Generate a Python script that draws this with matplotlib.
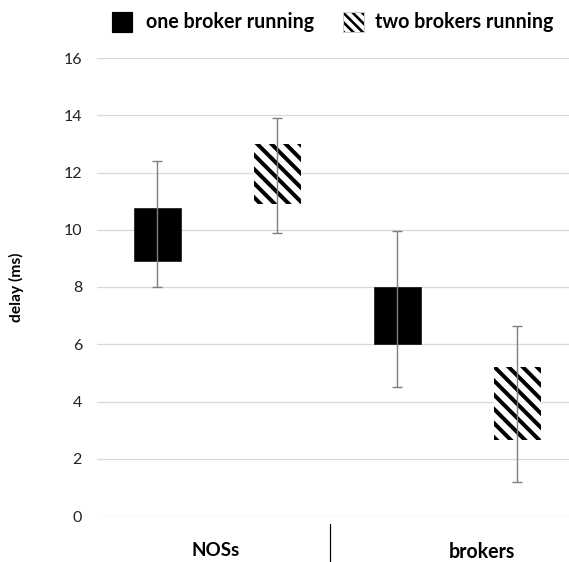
import matplotlib
matplotlib.use("Agg")
import matplotlib.pyplot as plt
from matplotlib.patches import Rectangle
from matplotlib.lines import Line2D

# ---- data ----
categories = ["NOSs", "brokers"]
series = ["one broker running", "two brokers running"]
box_low = [8.9, 10.9, 6.0, 2.65]      # NOSs-one, NOSs-two, brokers-one, brokers-two
box_high = [10.75, 13.0, 8.0, 5.2]
whisk_low = [8.0, 9.9, 4.5, 1.2]
whisk_high = [12.4, 13.9, 9.95, 6.65]
bar_series = [0, 1, 0, 1]
yticks = [0, 2, 4, 6, 8, 10, 12, 14, 16]

DPI = 85
W, H = 569, 562
def pt(px):
    return px * 72.0 / DPI

plt.rcParams['font.family'] = ['Lato', 'DejaVu Sans']
plt.rcParams['hatch.linewidth'] = pt(4.0)
plt.rcParams['hatch.color'] = 'black'

fig = plt.figure(figsize=(W / DPI, H / DPI), dpi=DPI)
left, right, bottom, top = 97, 569, 516, 58
ax = fig.add_axes([left / W, 1 - bottom / H, (right - left) / W, (bottom - top) / H])

slot = 120.0
xs = [0.5 + i for i in range(len(box_low))]
width = 47 / slot

for x, lo, hi, s in zip(xs, box_low, box_high, bar_series):
    if s == 0:
        ax.bar(x, hi - lo, bottom=lo, width=width, color='black', edgecolor='black', linewidth=0.5, zorder=2)
    else:
        ax.bar(x, hi - lo, bottom=lo, width=width, facecolor='white', edgecolor='black', linewidth=0,
               hatch='\\\\', zorder=2)

for x, lo, hi in zip(xs, whisk_low, whisk_high):
    ax.vlines(x, lo, hi, color='#7f7f7f', linewidth=pt(1.4), zorder=3)
    ax.plot([x, x], [lo, hi], linestyle='none', marker='_', markersize=pt(10),
            markeredgewidth=pt(1.4), color='#7f7f7f', zorder=3)

ax.set_xlim(0, (right - left) / slot)
ax.set_ylim(0, 16)
ax.set_yticks(yticks)
ax.set_yticklabels([str(t) for t in yticks], fontsize=pt(16), color='#222222')
ax.set_xticks([])
ax.tick_params(axis='y', length=0, pad=pt(15))
ax.grid(axis='y', color='#d9d9d9', linewidth=pt(1.3), zorder=0)
ax.set_axisbelow(True)
for sp in ax.spines.values():
    sp.set_visible(False)

ax.set_ylabel("delay (ms)", fontsize=pt(15.6), fontweight='bold')
ax.yaxis.set_label_coords(-(97 - 24) / (right - left), 0.5)

# category labels and divider
cat_x = [(216 - left) / slot, (482 - left) / slot]
cat_y = [551, 552]
cat_fs = [18.8, 19.5]
for name, cx, cy, fs in zip(categories, cat_x, cat_y, cat_fs):
    fig.text((left + cx * slot) / W, 1 - cy / H, name, ha='center', va='center',
             fontsize=pt(fs), fontweight='bold')
fig.add_artist(Line2D([330 / W, 330 / W], [1 - 524 / H, 0], color='black', linewidth=pt(1.2)))

# legend
fig.add_artist(Rectangle((112 / W, 1 - 32 / H), 20 / W, 20 / H, facecolor='black', edgecolor='black',
                         transform=fig.transFigure))
with plt.rc_context({'hatch.linewidth': pt(2.6)}):
    fig.add_artist(Rectangle((343 / W, 1 - 32 / H), 21 / W, 20 / H, facecolor='white', edgecolor='black',
                             linewidth=0, hatch='\\\\\\', transform=fig.transFigure))
fig.add_artist(Rectangle((343 / W, 1 - 32 / H), 21 / W, 20 / H, facecolor='none', edgecolor='#c8c8c8',
                         linewidth=pt(1.0), transform=fig.transFigure))
fig.text(146 / W, 1 - 22 / H, series[0], ha='left', va='center', fontsize=pt(19.7), fontweight='bold')
fig.text(375 / W, 1 - 22 / H, series[1], ha='left', va='center', fontsize=pt(19.7), fontweight='bold')

fig.savefig("out.png", dpi=DPI)
